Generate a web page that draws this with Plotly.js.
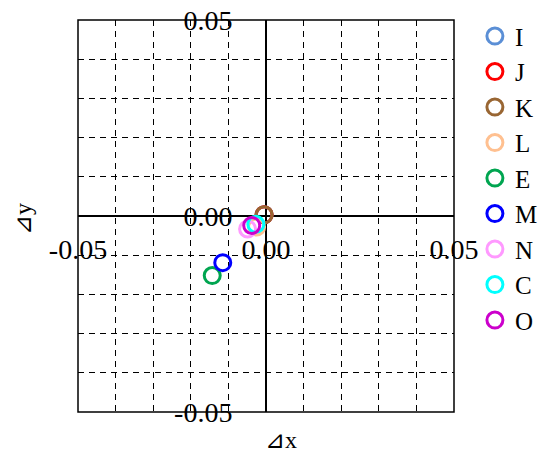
<!DOCTYPE html>
<html>
<head>
<meta charset="utf-8">
<script src="https://cdn.plot.ly/plotly-3.0.1.min.js"></script>
<style>html,body{margin:0;padding:0;background:#fff;}#chart{width:542px;height:453px;}</style>
</head>
<body>
<div id="chart"></div>
<script>
const names = ['I','J','K','L','E','M','N','C','O'];
const colors = ['#5b8fd6','#ff0000','#996633','#ffc090','#00a550','#0000ff','#ff99ff','#00ffff','#cc00cc'];
const dx = [-0.0005, -0.0005, -0.0005, -0.0025, -0.0143, -0.0115, -0.0049, -0.0027, -0.0038];
const dy = [0.0003, 0.0003, 0.0003, -0.0028, -0.0152, -0.0119, -0.0033, -0.0021, -0.0024];
const tickVals = [-0.05, 0, 0.05];
const tickText = ['-0.05', '0.00', '0.05'];
const xTitle = '\u22BFx';
const yTitle = '\u22BFy';

const font = '"Liberation Serif"';
const traces = names.map((n, i) => ({
  type: 'scatter', mode: 'markers', name: n,
  x: [dx[i]], y: [dy[i]],
  marker: {symbol: 'circle-open', size: 16, color: colors[i], line: {width: 3}}
}));

const axisCommon = {
  range: [-0.05, 0.05],
  tickvals: tickVals, ticktext: tickText,
  showgrid: false,
  zeroline: true, zerolinecolor: '#000', zerolinewidth: 1.5,
  showline: false,
  ticks: 'outside', tickcolor: 'rgba(0,0,0,0)',
  tickfont: {family: font, size: 28, color: '#000'},
  minor: {dtick: 0.01, showgrid: true, gridcolor: '#000', gridwidth: 1, griddash: '6px,5px', ticks: ''},
  anchor: 'free', position: 0.5, fixedrange: true
};

const layout = {
  width: 542, height: 453,
  margin: {l: 78, r: 88, t: 20, b: 41, autoexpand: false},
  paper_bgcolor: '#fff', plot_bgcolor: '#fff',
  font: {family: font, color: '#000'},
  xaxis: Object.assign({}, axisCommon, {ticklen: 8}),
  yaxis: Object.assign({}, axisCommon, {ticklen: 28}),
  showlegend: true,
  legend: {x: 1.0556, xanchor: 'left', y: 1.017, yanchor: 'top', font: {family: font, size: 25, color: '#000'},
           bgcolor: 'rgba(0,0,0,0)', borderwidth: 0, itemwidth: 30, tracegroupgap: 0, maxheight: 453},
  shapes: [{type: 'rect', xref: 'paper', yref: 'paper', x0: 0, x1: 1, y0: 0, y1: 1,
            line: {color: '#000', width: 1.5}, layer: 'above'}],
  annotations: [
    {text: xTitle, xref: 'paper', yref: 'paper', x: 0.54, y: 0, yshift: -28, showarrow: false,
     font: {family: font, size: 24, color: '#000'}, xanchor: 'center', yanchor: 'middle'},
    {text: yTitle, xref: 'paper', yref: 'paper', x: 0, xshift: -55, y: 0.5, yshift: -3, showarrow: false, textangle: -90,
     font: {family: font, size: 24, color: '#000'}, xanchor: 'center', yanchor: 'middle'}
  ]
};

Plotly.newPlot('chart', traces, layout, {displayModeBar: false, staticPlot: true});
</script>
</body>
</html>
